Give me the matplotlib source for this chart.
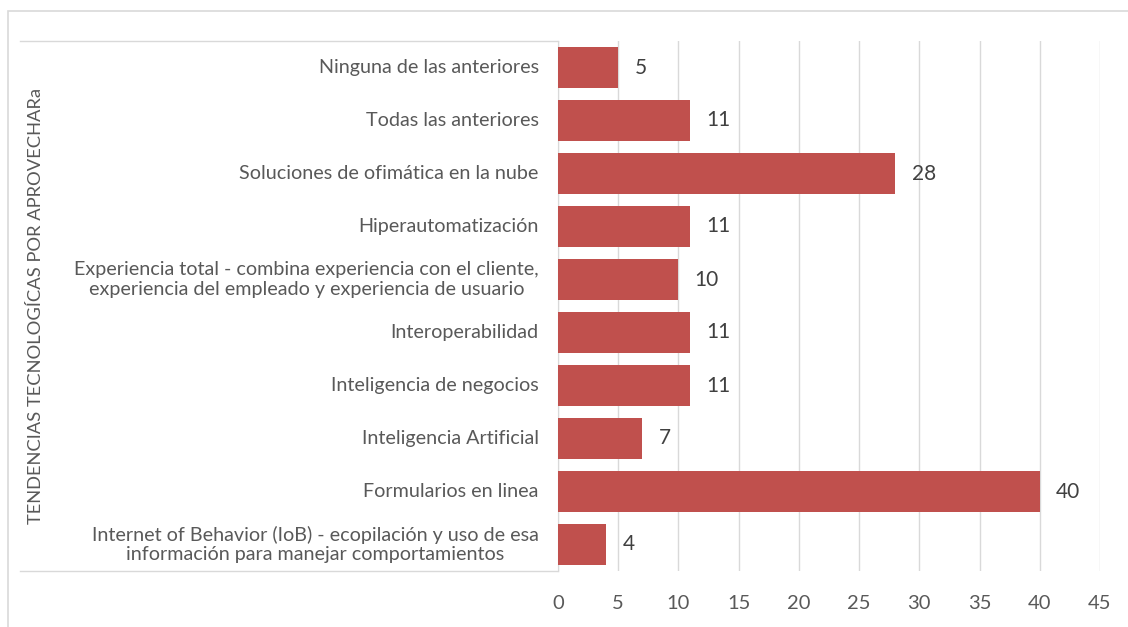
import matplotlib.pyplot as plt
from matplotlib.lines import Line2D
from matplotlib.patches import Rectangle

plt.rcParams['font.family'] = ['Lato', 'DejaVu Sans']

# categories top to bottom
categories = [
    'Ninguna de las anteriores',
    'Todas las anteriores',
    'Soluciones de ofimática en la nube',
    'Hiperautomatización',
    'Experiencia total - combina experiencia con el cliente,\nexperiencia del empleado y experiencia de usuario',
    'Interoperabilidad',
    'Inteligencia de negocios',
    'Inteligencia Artificial',
    'Formularios en linea',
    'Internet of Behavior (IoB) - ecopilación y uso de esa\ninformación para manejar comportamientos',
]
values = [5, 11, 28, 11, 10, 11, 11, 7, 40, 4]
xticks = [0, 5, 10, 15, 20, 25, 30, 35, 40, 45]
ylabel = 'TENDENCIAS TECNOLOGÍCAS POR APROVECHARa'

W, H = 1128, 627
fig = plt.figure(figsize=(W / 100, H / 100), dpi=100)
ax = fig.add_axes([558 / W, (H - 571) / H, (1100 - 558) / W, (571 - 41) / H])

pos = list(range(len(categories)))[::-1]
ax.barh(pos, values, height=0.76, color='#C0504D', zorder=3)
for p, v in zip(pos, values):
    ax.text(v + 1.35, p, str(v), va='center', ha='left', fontsize=15, color='#404040')

ax.set_xlim(0, 45)
ax.set_ylim(-0.5, len(categories) - 0.5)
ax.set_xticks(xticks)
ax.tick_params(axis='x', length=0, labelsize=14.5, labelcolor='#595959', pad=17)
ax.set_yticks([])
ax.xaxis.grid(True, color='#D9D9D9', linewidth=1, zorder=0)
for s in ['top', 'right', 'bottom']:
    ax.spines[s].set_visible(False)
ax.spines['left'].set_color('#D9D9D9')

# category labels
for p, c in zip(pos, categories):
    ax.text(-1.6, p, c, ha='right', va='center', fontsize=14.2, color='#595959',
            multialignment='center', linespacing=1.15)

# box lines of the category axis
fig.add_artist(Line2D([20 / W, 558 / W], [(H - 41) / H] * 2, color='#D9D9D9', lw=1))
fig.add_artist(Line2D([20 / W, 558 / W], [(H - 571) / H] * 2, color='#D9D9D9', lw=1))
# chart area border
fig.add_artist(Rectangle((8 / W, -0.01), 1.02, (H - 11) / H + 0.01, fill=False,
                         edgecolor='#D9D9D9', lw=1.2, transform=fig.transFigure))

fig.text(36 / W, (H - 306) / H, ylabel, rotation=90, ha='center', va='center',
         fontsize=13.2, color='#595959')

fig.savefig('out.png', dpi=100)
